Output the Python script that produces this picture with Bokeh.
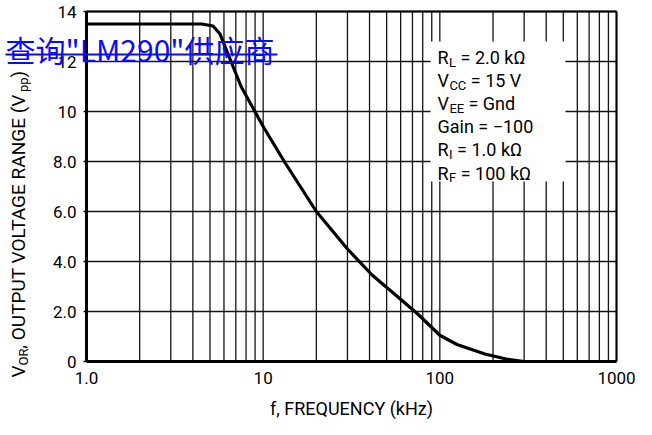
import math
from bokeh.plotting import figure
from bokeh.models import Range1d, FixedTicker, Label, BoxAnnotation, LogAxis, LinearAxis
from bokeh.embed import file_html
from bokeh.resources import INLINE

# ---- data ----
freq_khz = [1, 4.5, 5.2, 5.7, 6.2, 7.5, 10, 13.3, 20, 30, 41.5, 57.5, 75, 100, 125, 180, 237, 300]
vor_vpp = [13.5, 13.5, 13.42, 13.1, 12.45, 11.0, 9.4, 7.95, 6.0, 4.5, 3.45, 2.6, 1.9, 1.05, 0.68, 0.3, 0.1, 0.0]

x_ticks = [1, 10, 100, 1000]
x_tick_labels = ["1.0", "10", "100", "1000"]
x_minor = [2, 3, 4, 5, 6, 7, 8, 9, 20, 30, 40, 50, 60, 70, 80, 90, 200, 300, 400, 500, 600, 700, 800, 900]
y_ticks = [0, 2, 4, 6, 8, 10, 12, 14]
y_tick_labels = ["0", "2.0", "4.0", "6.0", "8.0", "10", "12", "14"]

param_names = ["R", "V", "V", "Gain = \u2212100", "R", "R"]
param_subs = ["L", "CC", "EE", "", "I", "F"]
param_values = ["= 2.0 k\u03a9", "= 15 V", "= Gnd", "", "= 1.0 k\u03a9", "= 100 k\u03a9"]

ylabel_runs = [("V", False), ("OR", True), (", OUTPUT VOLTAGE RANGE (V", False), ("pp", True), (")", False)]
x_label = "f, FREQUENCY (kHz)"
watermark = "\u67e5\u8be2\"LM290\"\u4f9b\u5e94\u5546"

# ---- layout (canvas pixels) ----
W, H = 636, 419
BOX_L, BOX_R, BOX_T, BOX_B = 86, 616, 11, 361
FONT = "Roboto"
MAIN = 18
SUB = 13
YMAIN = 19
YSUB = 13

CW = {'V': .634, 'O': .674, 'R': .617, ',': .197, ' ': .248, 'U': .637, 'T': .599, 'P': .631,
      'L': .538, 'A': .652, 'G': .682, 'E': .56, 'N': .713, '(': .342, 'p': .56, ')': .348,
      'C': .652, 'I': .272, 'F': .553}


def text_w(s, size):
    return sum(CW.get(c, .56) for c in s) * size


def sy(y):  # canvas y (down) -> screen y (up)
    return H - y


xlo, xhi = math.log10(x_ticks[0]), math.log10(x_ticks[-1])
dec = (BOX_R - BOX_L) / (xhi - xlo)
x_start = 10 ** (xlo - BOX_L / dec)
x_end = 10 ** (xhi + (W - BOX_R) / dec)
unit = (BOX_B - BOX_T) / (y_ticks[-1] - y_ticks[0])
y_end = y_ticks[-1] + BOX_T / unit
y_start = y_ticks[0] - (H - BOX_B) / unit

p = figure(width=W, height=H, x_axis_type="log", x_axis_location=None, y_axis_location=None,
           output_backend="svg", toolbar_location=None,
           x_range=Range1d(x_start, x_end), y_range=Range1d(y_start, y_end),
           min_border=0, min_border_left=0, min_border_right=0, min_border_top=0, min_border_bottom=0)
p.background_fill_color = "white"
p.border_fill_color = "white"
p.outline_line_color = None
p.grid.visible = False

# grid lines from tick arrays
grid_col = "#141414"
vx = x_ticks + x_minor
p.segment(x0=vx, y0=[y_ticks[0]] * len(vx), x1=vx, y1=[y_ticks[-1]] * len(vx),
          line_color=grid_col, line_width=1.3)
p.segment(x0=[x_ticks[0]] * len(y_ticks), y0=y_ticks, x1=[x_ticks[-1]] * len(y_ticks), y1=y_ticks,
          line_color=grid_col, line_width=1.3)
# top / right border
p.segment(x0=[x_ticks[0], x_ticks[-1]], y0=[y_ticks[-1], y_ticks[0]],
          x1=[x_ticks[-1], x_ticks[-1]], y1=[y_ticks[-1], y_ticks[-1]],
          line_color="black", line_width=2)

# axes at fixed locations
xax = LogAxis(fixed_location=y_ticks[0], bounds=(x_ticks[0], x_ticks[-1]),
              ticker=FixedTicker(ticks=x_ticks, minor_ticks=x_minor))
yax = LinearAxis(fixed_location=x_ticks[0], bounds=(y_ticks[0], y_ticks[-1]),
                 ticker=FixedTicker(ticks=y_ticks))
xax.major_label_overrides = dict(zip(x_ticks, x_tick_labels))
yax.major_label_overrides = dict(zip(y_ticks, y_tick_labels))
for ax in (xax, yax):
    ax.axis_line_width = 3
    ax.axis_line_color = "black"
    ax.major_tick_in = 0
    ax.minor_tick_in = 0
    ax.minor_tick_out = 0
    ax.major_label_text_font = FONT
    ax.major_label_text_font_size = "17px"
    ax.major_label_text_color = "black"
xax.major_tick_out = 0
xax.major_label_standoff = 10
yax.major_tick_out = 3
yax.major_tick_line_width = 1.5
yax.major_label_standoff = 7
xax.axis_label = x_label
xax.axis_label_text_font = FONT
xax.axis_label_text_font_size = f"{MAIN}px"
xax.axis_label_text_font_style = "normal"
xax.axis_label_text_color = "black"
xax.axis_label_standoff = 11
p.add_layout(xax, "below")
p.add_layout(yax, "left")

p.line(freq_khz, vor_vpp, line_color="black", line_width=3.2)

# parameter box (white, hides grid)
p.add_layout(BoxAnnotation(left=430, right=565, bottom=sy(181), top=sy(41),
                           left_units="screen", right_units="screen",
                           bottom_units="screen", top_units="screen",
                           fill_color="white", fill_alpha=1.0, line_alpha=0, level="annotation"))

x0 = 437
for i, (nm, sb, vl) in enumerate(zip(param_names, param_subs, param_values)):
    b = sy(57 + i * 23.1)
    p.add_layout(Label(x=x0, y=b, x_units="screen", y_units="screen", text=nm,
                       text_font=FONT, text_font_size=f"{MAIN}px", text_baseline="alphabetic",
                       text_color="black"))
    if sb:
        xs = x0 + text_w(nm, MAIN) + 0.5
        p.add_layout(Label(x=xs, y=b - 4.5, x_units="screen", y_units="screen", text=sb,
                           text_font=FONT, text_font_size=f"{SUB}px", text_baseline="alphabetic",
                           text_color="black"))
        xv = xs + text_w(sb, SUB) + text_w(" ", MAIN)
        p.add_layout(Label(x=xv, y=b, x_units="screen", y_units="screen", text=vl,
                           text_font=FONT, text_font_size=f"{MAIN}px", text_baseline="alphabetic",
                           text_color="black"))

# y-axis label, rotated, assembled from runs
yy = sy(377)
xc = 18
for txt, is_sub in ylabel_runs:
    size = YSUB if is_sub else YMAIN
    p.add_layout(Label(x=xc + (5 if is_sub else 0), y=yy, x_units="screen", y_units="screen",
                       text=txt, angle=math.pi / 2, text_font=FONT, text_font_size=f"{size}px",
                       text_baseline="middle", text_align="left", text_color="black"))
    yy += text_w(txt, size)

# overlay link text
p.add_layout(Label(x=5, y=sy(48), x_units="screen", y_units="screen", text=watermark,
                   text_font="Noto Sans CJK SC", text_font_size="30px", text_color="#0a0aff",
                   text_baseline="alphabetic"))
p.add_layout(BoxAnnotation(left=5, right=277, bottom=sy(55), top=sy(53),
                           left_units="screen", right_units="screen",
                           bottom_units="screen", top_units="screen",
                           fill_color="#0a0aff", fill_alpha=1.0, line_alpha=0, level="overlay"))

open("out.html", "w").write(file_html(p, INLINE))
